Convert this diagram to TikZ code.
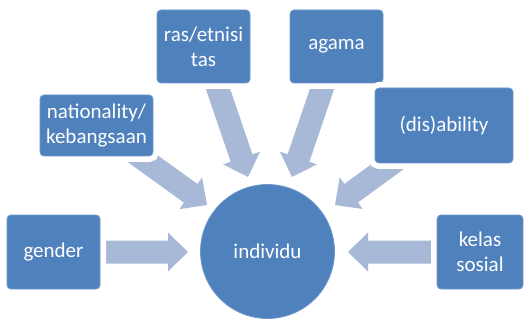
\documentclass[tikz,border=0pt]{standalone}
\usepackage{fontspec}
\setmainfont{Carlito}
\pgfdeclarelayer{bg}
\pgfsetlayers{bg,main}
\definecolor{boxblue}{RGB}{79,129,189}
\definecolor{boxedge}{RGB}{112,152,206}
\definecolor{arrowgray}{RGB}{167,185,214}
\tikzset{
  boxnode/.style={rectangle, rounded corners=4pt, fill=boxblue, draw=boxedge,
    line width=0.8pt, text=white, align=center, inner sep=0pt,
    font=\fontsize{21}{25}\selectfont,
    preaction={draw=white, line width=12pt}},
  circnode/.style={circle, fill=boxblue, draw=boxedge, line width=0.8pt,
    text=white, inner sep=0pt, minimum size=134pt,
    font=\fontsize{21}{25}\selectfont},
  arrowfill/.style={fill=arrowgray}
}
\newcommand\blockarr[2]{%
  \pgfpointdiff{\pgfpointanchor{#1}{center}}{\pgfpointanchor{#2}{center}}%
  \pgfgetlastxy{\bdx}{\bdy}%
  \pgfmathsetmacro\bang{atan2(\bdy,\bdx)}%
  \pgfmathsetmacro\blen{veclen(\bdx,\bdy)}%
  \fill[arrowfill, shift={(#1.center)}, rotate=\bang]
    (0,-11.5) -- (\blen-20,-11.5) -- (\blen-20,-19.5) -- (\blen,0)
    -- (\blen-20,19.5) -- (\blen-20,11.5) -- (0,11.5) -- cycle;
}
\begin{document}
\begin{tikzpicture}[x=1pt,y=-1pt]
\useasboundingbox (0,0) rectangle (526,320);
% boxes
\node[boxnode, minimum width=93pt, minimum height=73pt] (ras) at (203.5,46.5) {ras/etnisi\\tas};
\node[boxnode, minimum width=93pt, minimum height=73pt] (agama) at (336.5,46.5) {agama};
\node[boxnode, minimum width=113pt, minimum height=61pt] (nat) at (96.5,125.5) {nationality/\\kebangsaan};
\node[boxnode, minimum width=138pt, minimum height=75pt] (dis) at (444,125.5) {(dis)ability};
\node[boxnode, minimum width=93pt, minimum height=74pt] (gender) at (53.5,252) {gender};
\node[boxnode, minimum width=86pt, minimum height=74pt] (kelas) at (480,252) {kelas\\sosial};
\node[circnode] (ind) at (267.5,251.5) {individu};
% arrow tips
\coordinate (tras) at (248,177);
\coordinate (tagama) at (292,177);
\coordinate (tnat) at (207,205);
\coordinate (tdis) at (335,205);
\coordinate (tgender) at (188,252);
\coordinate (tkelas) at (348,252);
\begin{pgfonlayer}{bg}
\blockarr{ras}{tras}
\blockarr{agama}{tagama}
\blockarr{nat}{tnat}
\blockarr{dis}{tdis}
\blockarr{gender}{tgender}
\blockarr{kelas}{tkelas}
\end{pgfonlayer}
\end{tikzpicture}
\end{document}
